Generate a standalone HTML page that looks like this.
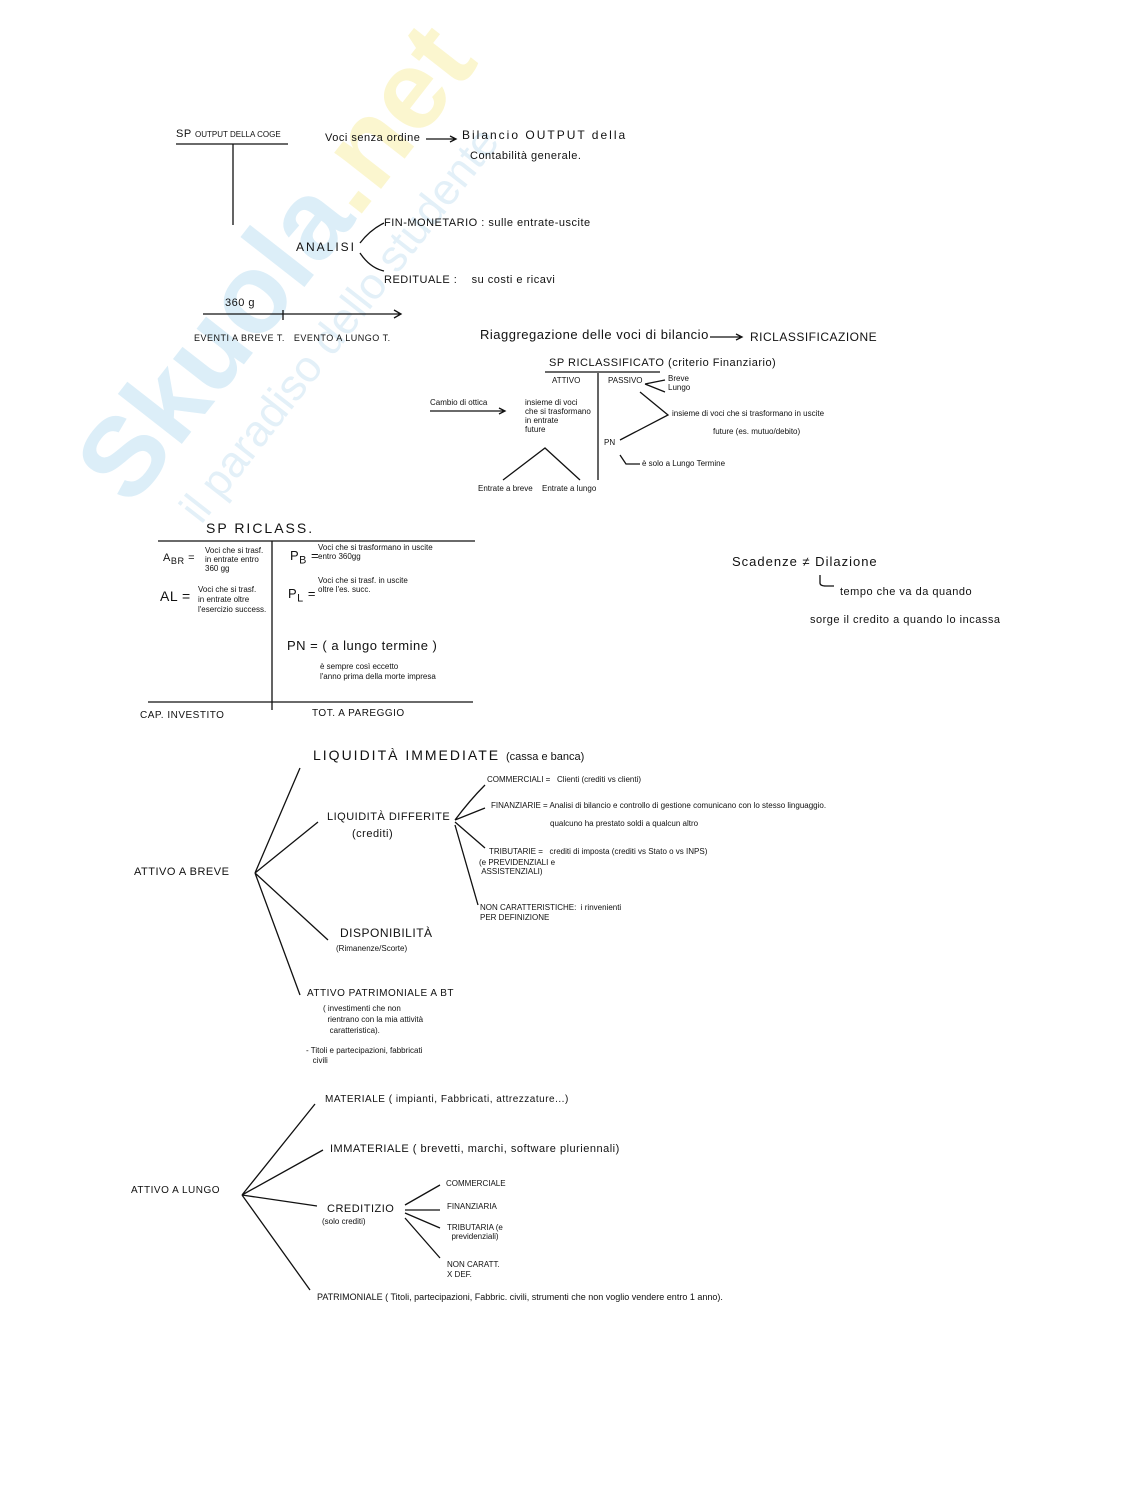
<!DOCTYPE html>
<html><head><meta charset="utf-8"><style>
body{margin:0;width:1148px;height:1501px;background:#fff;position:relative;overflow:hidden;font-family:"Liberation Sans",sans-serif;color:#111}
.t{position:absolute;white-space:nowrap;font-size:11px;letter-spacing:0.5px}
.s{font-size:8px;letter-spacing:0}
.l{font-size:14px;letter-spacing:2px}
svg{position:absolute;left:0;top:0}
.wm{position:absolute;white-space:nowrap;transform:translate(-50%,-50%) rotate(-52deg)}
</style></head><body>
<div class="wm" style="left:275px;top:262px;font:bold 112px 'Liberation Sans',sans-serif;color:#dceef8">Skuola<span style="color:#fbf6cf">.net</span></div>
<div class="wm" style="left:340px;top:325px;font:44px 'Liberation Sans',sans-serif;color:#e3f0f8">il paradiso dello studente</div>
<svg width="1148" height="1501" stroke="#111" fill="none" stroke-width="1.3">
<line x1="176" y1="144" x2="288" y2="144"/><line x1="233" y1="144" x2="233" y2="225"/>
<path d="M426 139 H455 M450 136 L456 139 L450 142"/>
<path d="M360 243 Q370 230 384 223 M360 253 Q370 268 384 271"/>
<path d="M203 314 H400 M394 310 L401 314 L394 318 M283 310 V320"/>
<path d="M430 411 H505 M499 408 L505 411 L499 414"/>
<path d="M710 337 H742 M736 334 L742 337 L736 340"/>
<line x1="598" y1="373" x2="598" y2="480"/><line x1="545" y1="372" x2="660" y2="372"/>
<path d="M503 480 L545 448 L580 480"/>
<path d="M645 384 L665 380 M645 384 L665 392 M640 392 L668 415 L620 440"/>
<path d="M620 455 L626 464 L640 464"/>
<line x1="158" y1="541" x2="475" y2="541"/><line x1="272" y1="541" x2="272" y2="710"/><line x1="148" y1="702" x2="473" y2="702"/>
<path d="M820 575 V583 Q820 586 826 586 H834"/>
<path d="M255 873 L300 768 M255 873 L318 822 M255 873 L328 940 M255 873 L300 995"/>
<path d="M455 820 Q470 800 485 785 M455 820 L485 808 M455 822 L485 848 M455 825 L478 905"/>
<path d="M242 1195 L315 1104 M242 1195 L323 1150 M242 1195 L317 1206 M242 1195 L310 1290"/>
<path d="M405 1205 L440 1185 M405 1210 L440 1210 M405 1213 L440 1228 M405 1218 L440 1258"/>
</svg>
<div class="t" style="left:176px;top:128px">SP <span class="s">OUTPUT DELLA COGE</span></div>
<div class="t" style="left:325px;top:132px">Voci senza ordine</div>
<div class="t l" style="left:462px;top:128px;font-size:12px">Bilancio OUTPUT della</div>
<div class="t" style="left:470px;top:150px">Contabilità generale.</div>
<div class="t l" style="left:296px;top:240px;font-size:12px">ANALISI</div>
<div class="t" style="left:384px;top:217px">FIN-MONETARIO : sulle entrate-uscite</div>
<div class="t" style="left:384px;top:274px">REDITUALE :&nbsp;&nbsp;&nbsp; su costi e ricavi</div>
<div class="t" style="left:225px;top:297px">360 g</div>
<div class="t" style="left:194px;top:333px;font-size:9px">EVENTI A BREVE T.&nbsp;&nbsp; EVENTO A LUNGO T.</div>
<div class="t" style="left:480px;top:327px;font-size:13px">Riaggregazione delle voci di bilancio</div>
<div class="t" style="left:750px;top:330px;font-size:12px">RICLASSIFICAZIONE</div>
<div class="t" style="left:549px;top:357px">SP RICLASSIFICATO (criterio Finanziario)</div>
<div class="t s" style="left:552px;top:376px">ATTIVO</div><div class="t s" style="left:608px;top:376px">PASSIVO</div>
<div class="t s" style="left:668px;top:374px">Breve<br>Lungo</div>
<div class="t s" style="left:525px;top:398px;line-height:9px">insieme di voci<br>che si trasformano<br>in entrate<br>future</div>
<div class="t s" style="left:430px;top:398px">Cambio di ottica</div>
<div class="t s" style="left:672px;top:409px">insieme di voci che si trasformano in uscite</div>
<div class="t s" style="left:713px;top:427px">future (es. mutuo/debito)</div>
<div class="t s" style="left:604px;top:438px">PN</div>
<div class="t s" style="left:642px;top:459px">è solo a Lungo Termine</div>
<div class="t s" style="left:478px;top:484px">Entrate a breve</div><div class="t s" style="left:542px;top:484px">Entrate a lungo</div>
<div class="t l" style="left:206px;top:520px">SP RICLASS.</div>
<div class="t" style="left:163px;top:552px">A<sub>BR</sub> =</div>
<div class="t s" style="left:205px;top:546px;line-height:9px">Voci che si trasf.<br>in entrate entro<br>360 gg</div>
<div class="t" style="left:160px;top:588px;font-size:14px">AL =</div>
<div class="t s" style="left:198px;top:585px;line-height:10px">Voci che si trasf.<br>in entrate oltre<br>l'esercizio success.</div>
<div class="t" style="left:290px;top:548px;font-size:13px">P<sub>B</sub> =</div>
<div class="t s" style="left:318px;top:543px;line-height:9px">Voci che si trasformano in uscite<br>entro 360gg</div>
<div class="t" style="left:288px;top:586px;font-size:13px">P<sub>L</sub> =</div>
<div class="t s" style="left:318px;top:576px;line-height:9px">Voci che si trasf. in uscite<br>oltre l'es. succ.</div>
<div class="t" style="left:287px;top:638px;font-size:13px">PN = ( a lungo termine )</div>
<div class="t s" style="left:320px;top:662px;line-height:10px">è sempre così eccetto<br>l'anno prima della morte impresa</div>
<div class="t" style="left:140px;top:710px;font-size:10px">CAP. INVESTITO</div>
<div class="t" style="left:312px;top:708px;font-size:10px">TOT. A PAREGGIO</div>
<div class="t" style="left:732px;top:554px;font-size:13px;letter-spacing:1px">Scadenze ≠ Dilazione</div>
<div class="t" style="left:840px;top:586px">tempo che va da quando</div>
<div class="t" style="left:810px;top:614px">sorge il credito a quando lo incassa</div>
<div class="t l" style="left:313px;top:747px">LIQUIDITÀ IMMEDIATE <span style="font-size:11px;letter-spacing:0">(cassa e banca)</span></div>
<div class="t" style="left:327px;top:811px">LIQUIDITÀ DIFFERITE</div><div class="t" style="left:352px;top:828px">(crediti)</div>
<div class="t s" style="left:487px;top:775px">COMMERCIALI =&nbsp;&nbsp; Clienti (crediti vs clienti)</div>
<div class="t s" style="left:491px;top:801px">FINANZIARIE = Analisi di bilancio e controllo di gestione comunicano con lo stesso linguaggio.</div>
<div class="t s" style="left:550px;top:819px">qualcuno ha prestato soldi a qualcun altro</div>
<div class="t s" style="left:489px;top:847px">TRIBUTARIE =&nbsp;&nbsp; crediti di imposta (crediti vs Stato o vs INPS)</div>
<div class="t s" style="left:479px;top:858px;line-height:9px">(e PREVIDENZIALI e<br>&nbsp;ASSISTENZIALI)</div>
<div class="t s" style="left:480px;top:903px;line-height:10px">NON CARATTERISTICHE:&nbsp; i rinvenienti<br>PER DEFINIZIONE</div>
<div class="t" style="left:134px;top:866px">ATTIVO A BREVE</div>
<div class="t" style="left:340px;top:926px;font-size:12px">DISPONIBILITÀ</div>
<div class="t s" style="left:336px;top:944px">(Rimanenze/Scorte)</div>
<div class="t" style="left:307px;top:988px;font-size:10px">ATTIVO PATRIMONIALE A BT</div>
<div class="t s" style="left:323px;top:1003px;line-height:11px">( investimenti che non<br>&nbsp;&nbsp;rientrano con la mia attività<br>&nbsp;&nbsp;&nbsp;caratteristica).</div>
<div class="t s" style="left:306px;top:1046px;line-height:10px">- Titoli e partecipazioni, fabbricati<br>&nbsp;&nbsp;&nbsp;civili</div>
<div class="t" style="left:325px;top:1094px;font-size:10px">MATERIALE ( impianti, Fabbricati, attrezzature...)</div>
<div class="t" style="left:330px;top:1143px;font-size:11px">IMMATERIALE ( brevetti, marchi, software pluriennali)</div>
<div class="t" style="left:131px;top:1185px;font-size:10px">ATTIVO A LUNGO</div>
<div class="t" style="left:327px;top:1203px">CREDITIZIO</div><div class="t s" style="left:322px;top:1217px">(solo crediti)</div>
<div class="t s" style="left:446px;top:1179px">COMMERCIALE</div>
<div class="t s" style="left:447px;top:1202px">FINANZIARIA</div>
<div class="t s" style="left:447px;top:1223px;line-height:9px">TRIBUTARIA (e<br>&nbsp;&nbsp;previdenziali)</div>
<div class="t s" style="left:447px;top:1260px;line-height:10px">NON CARATT.<br>X DEF.</div>
<div class="t s" style="left:317px;top:1292px;font-size:9px">PATRIMONIALE ( Titoli, partecipazioni, Fabbric. civili, strumenti che non voglio vendere entro 1 anno).</div>
</body></html>
